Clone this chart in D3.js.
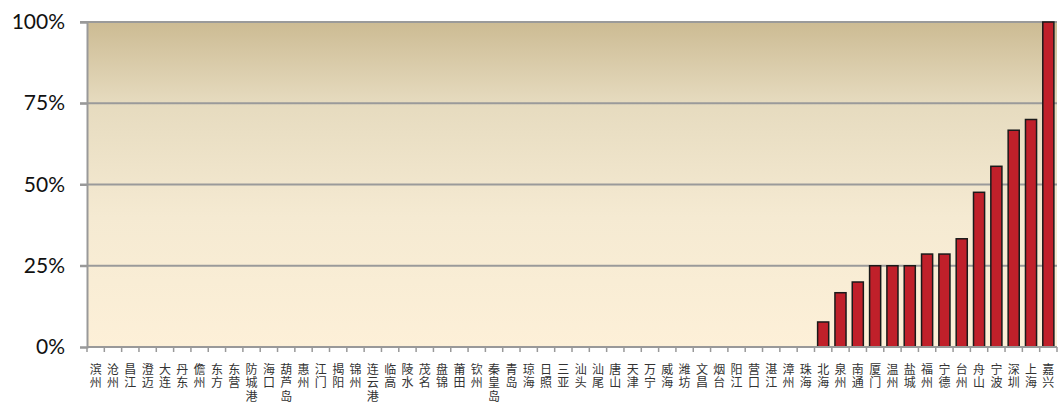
<!DOCTYPE html>
<html><head><meta charset="utf-8">
<script src="https://cdn.jsdelivr.net/npm/d3@7"></script>
<style>body{margin:0;background:#fff}svg{display:block}</style>
</head><body>
<svg id="c" width="1060" height="402"></svg>
<script>
const categories = ["滨州","沧州","昌江","澄迈","大连","丹东","儋州","东方","东营","防城港","海口","葫芦岛","惠州","江门","揭阳","锦州","连云港","临高","陵水","茂名","盘锦","莆田","钦州","秦皇岛","青岛","琼海","日照","三亚","汕头","汕尾","唐山","天津","万宁","威海","潍坊","文昌","烟台","阳江","营口","湛江","漳州","珠海","北海","泉州","南通","厦门","温州","盐城","福州","宁德","台州","舟山","宁波","深圳","上海","嘉兴"];
const values = [0,0,0,0,0,0,0,0,0,0,0,0,0,0,0,0,0,0,0,0,0,0,0,0,0,0,0,0,0,0,0,0,0,0,0,0,0,0,0,0,0,0,0.077,0.167,0.20,0.25,0.25,0.25,0.286,0.286,0.333,0.476,0.556,0.667,0.70,1.0];
const yTicks = [0,0.25,0.5,0.75,1];

const svg = d3.select("#c");
const L = 87, R = 1057, T = 22, B = 347;
const x = d3.scaleBand().domain(categories).range([L, R]).paddingInner(0.36).paddingOuter(0.18);
const y = d3.scaleLinear().domain([0,1]).range([B, T]);

const defs = svg.append("defs");
const g = defs.append("linearGradient").attr("id","bg").attr("x1",0).attr("y1",0).attr("x2",0).attr("y2",1);
g.append("stop").attr("offset","0%").attr("stop-color","#ccbb93");
g.append("stop").attr("offset","25%").attr("stop-color","#e6dbbf");
g.append("stop").attr("offset","60%").attr("stop-color","#f5ead2");
g.append("stop").attr("offset","100%").attr("stop-color","#fdf0d8");
svg.append("rect").attr("x",L).attr("y",T).attr("width",R-L).attr("height",B-T).attr("fill","url(#bg)");

// gridlines
svg.append("g").selectAll("line").data(yTicks.filter(d=>d>0)).join("line")
  .attr("x1",L-7).attr("x2",R).attr("y1",d=>y(d)).attr("y2",d=>y(d))
  .attr("stroke","#9a9a9a").attr("stroke-width",2);

// y axis
const ya = svg.append("g").attr("transform",`translate(${L},0)`)
  .call(d3.axisLeft(y).tickValues(yTicks).tickFormat(d3.format(".0%")).tickSize(7).tickPadding(15));
ya.select(".domain").attr("stroke","#999").attr("stroke-width",2);
ya.selectAll(".tick line").attr("stroke","#999").attr("stroke-width",2);
ya.selectAll("text").attr("font-family","Lato, 'Open Sans', sans-serif").attr("font-size",21).attr("fill","#111");

// bars
svg.append("g").selectAll("rect").data(categories.map((c,i)=>({c,v:values[i]})).filter(d=>d.v>0)).join("rect")
  .attr("x",d=>x(d.c)).attr("width",x.bandwidth())
  .attr("y",d=>y(d.v)).attr("height",d=>B-y(d.v))
  .attr("fill","#c0202a").attr("stroke","#1a1a1a").attr("stroke-width",1.5);

// x axis
const xa = svg.append("g");
xa.append("line").attr("x1",L).attr("x2",R).attr("y1",B).attr("y2",B).attr("stroke","#999").attr("stroke-width",2);
const bounds = d3.range(categories.length+1).map(i=>L + (R-L)*i/categories.length);
xa.selectAll("line.t").data(bounds).join("line").attr("class","t")
  .attr("x1",d=>d).attr("x2",d=>d).attr("y1",B).attr("y2",B+5).attr("stroke","#999").attr("stroke-width",1.5);

// vertical stacked labels
svg.append("g").selectAll("text").data(categories).join("text")
  .attr("x",d=>x(d)+x.bandwidth()/2).attr("y",363)
  .style("writing-mode","vertical-rl").style("text-orientation","upright")
  .attr("letter-spacing",1.5)
  .attr("font-family","'Noto Sans CJK SC', sans-serif")
  .attr("font-size",12).attr("fill","#333").text(d=>d);
</script>
</body></html>
